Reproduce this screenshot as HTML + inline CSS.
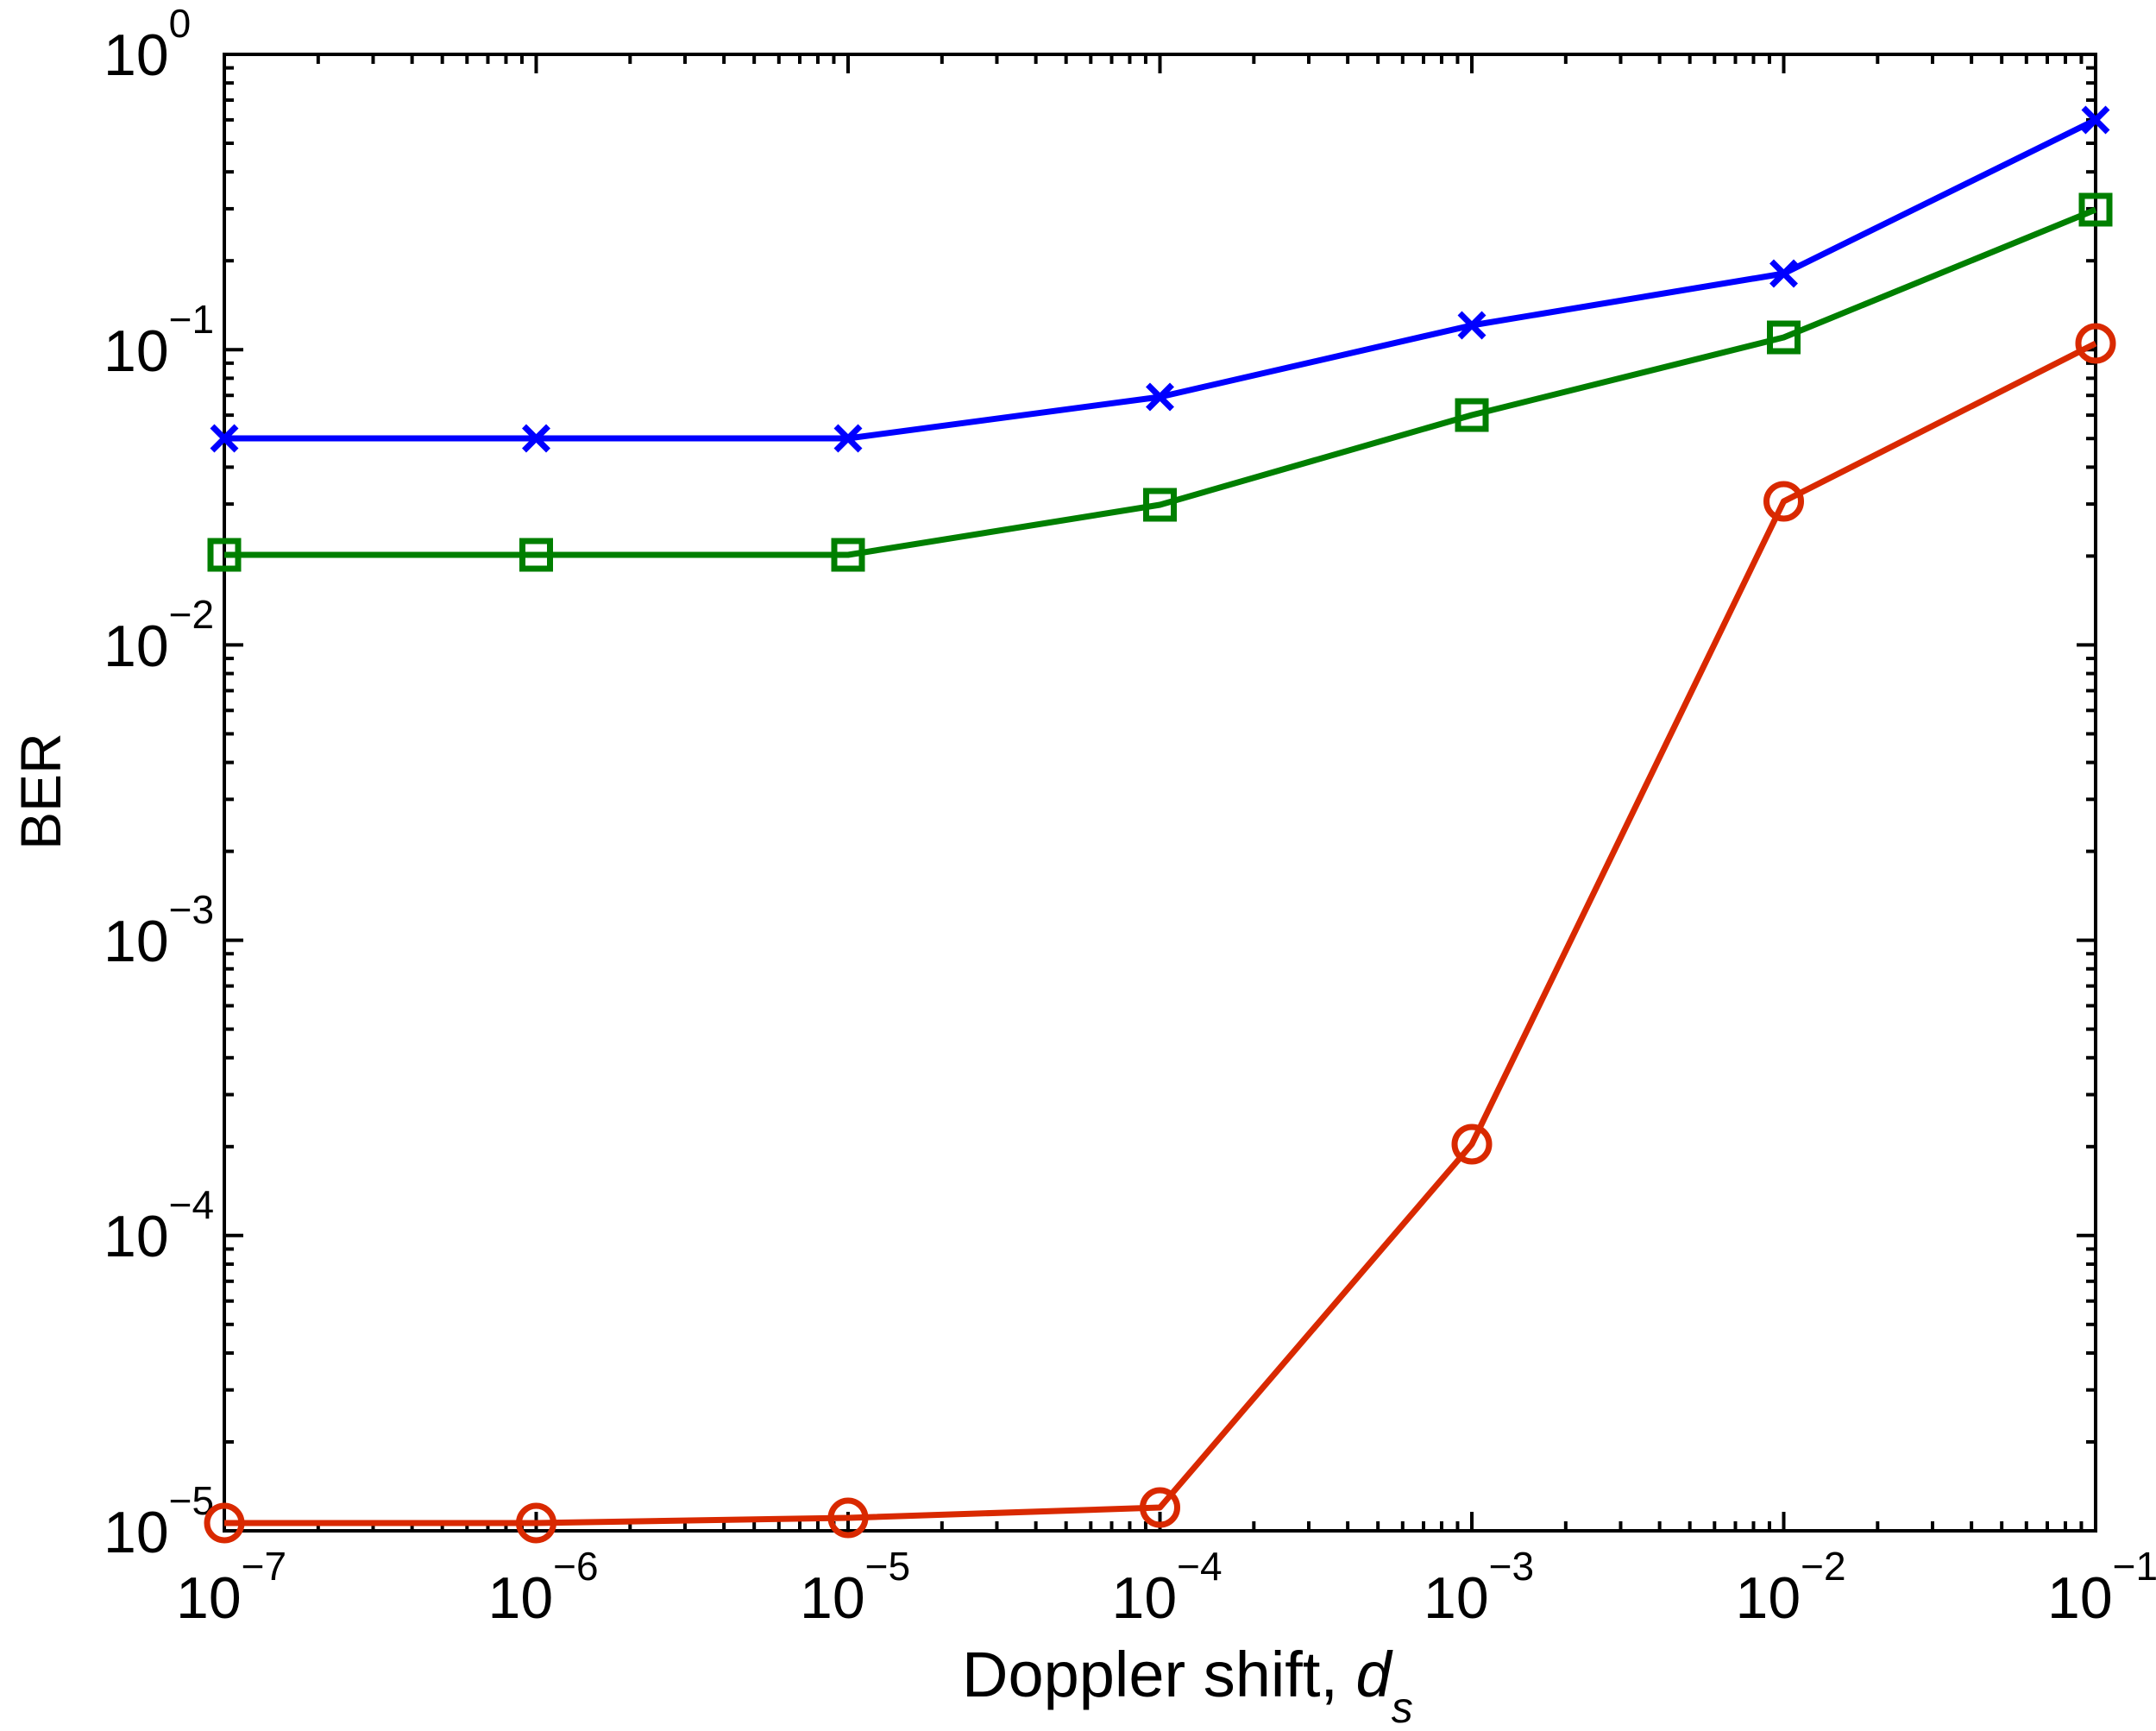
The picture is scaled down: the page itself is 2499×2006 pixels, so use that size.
<!DOCTYPE html>
<html><head><meta charset="utf-8"><style>html,body{margin:0;padding:0;background:#fff}svg{display:block}</style></head>
<body>
<svg id="s" width="2499" height="2006" viewBox="0 0 2499 2006" xmlns="http://www.w3.org/2000/svg" font-family="Liberation Sans, Arial, sans-serif">
<rect width="2499" height="2006" fill="#fff"/>
<g id="ticks" stroke="#000" stroke-width="4"></g>
<rect x="260" y="63" width="2169" height="1711" fill="none" stroke="#000" stroke-width="4"/>
<g font-size="68" fill="#000">
<text x="120" y="87">10<tspan dy="-44" font-size="46">0</tspan></text>
<text x="120" y="430">10<tspan dy="-44" font-size="46">−1</tspan></text>
<text x="120" y="772">10<tspan dy="-44" font-size="46">−2</tspan></text>
<text x="120" y="1114">10<tspan dy="-44" font-size="46">−3</tspan></text>
<text x="120" y="1456">10<tspan dy="-44" font-size="46">−4</tspan></text>
<text x="120" y="1799">10<tspan dy="-44" font-size="46">−5</tspan></text>
</g>
<g font-size="68" fill="#000" id="xl"></g>
<text x="1115" y="1966" font-size="74">Doppler shift, <tspan font-style="italic">d</tspan><tspan font-style="italic" font-size="50" dy="30">s</tspan></text>
<text transform="translate(70,917) rotate(-90)" text-anchor="middle" font-size="66">BER</text>
<g fill="none" stroke-width="7" stroke-linejoin="round">
<polyline stroke="#0000ff" points="260,508 621.5,508 983,508 1344.5,460 1706,377 2067.5,317 2429,139"/>
<polyline stroke="#007f00" points="260,643 621.5,643 983,643 1344.5,585 1706,481 2067.5,391 2429,243"/>
<polyline stroke="#d92900" points="260,1765 621.5,1765 983,1759 1344.5,1747 1706,1326 2067.5,581 2429,398"/>
</g>
<g id="mk" fill="none" stroke-width="7"></g>
<script>
var NS="http://www.w3.org/2000/svg";
function el(p,t,a){var e=document.createElementNS(NS,t);for(var k in a)e.setAttribute(k,a[k]);p.appendChild(e);return e;}
var L=260,R=2429,T=63,B=1774,dx=361.5,dy=342.2;
var tg=document.getElementById('ticks');
for(var i=0;i<6;i++){for(var k=1;k<10;k++){var len=(k==1)?22:11;
 var x=L+(i+Math.log10(k))*dx; if(k>1||i>0){el(tg,'line',{x1:x,y1:B,x2:x,y2:B-len});el(tg,'line',{x1:x,y1:T,x2:x,y2:T+len});}
}}
for(var i=0;i<5;i++){for(var k=1;k<10;k++){var len=(k==1)?22:11;
 var y=B-(i+Math.log10(k))*dy; if(k>1||i>0){el(tg,'line',{x1:L,y1:y,x2:L+len,y2:y});el(tg,'line',{x1:R,y1:y,x2:R-len,y2:y});}
}}
var xl=document.getElementById('xl');
for(var i=0;i<7;i++){var x=L+i*dx;var t=el(xl,'text',{x:x-56,y:1875});t.appendChild(document.createTextNode('10'));
 var s=el(t,'tspan',{dy:-44,'font-size':46});s.appendChild(document.createTextNode('\u2212'+(7-i)));}
var mk=document.getElementById('mk');var xs=[];for(var i=0;i<7;i++)xs.push(L+i*dx);
var by=[508,508,508,460,377,317,139],gy=[643,643,643,585,481,391,243],ry=[1765,1765,1759,1747,1326,581,398];
for(var i=0;i<7;i++){var x=xs[i];
 el(mk,'path',{d:'M'+(x-14)+','+(by[i]-14)+'L'+(x+14)+','+(by[i]+14)+'M'+(x-14)+','+(by[i]+14)+'L'+(x+14)+','+(by[i]-14),stroke:'#0000ff'});
 el(mk,'rect',{x:x-16,y:gy[i]-16,width:32,height:32,stroke:'#007f00'});
 el(mk,'circle',{cx:x,cy:ry[i],r:20,stroke:'#d92900'});
}
</script>
</svg>
</body></html>
